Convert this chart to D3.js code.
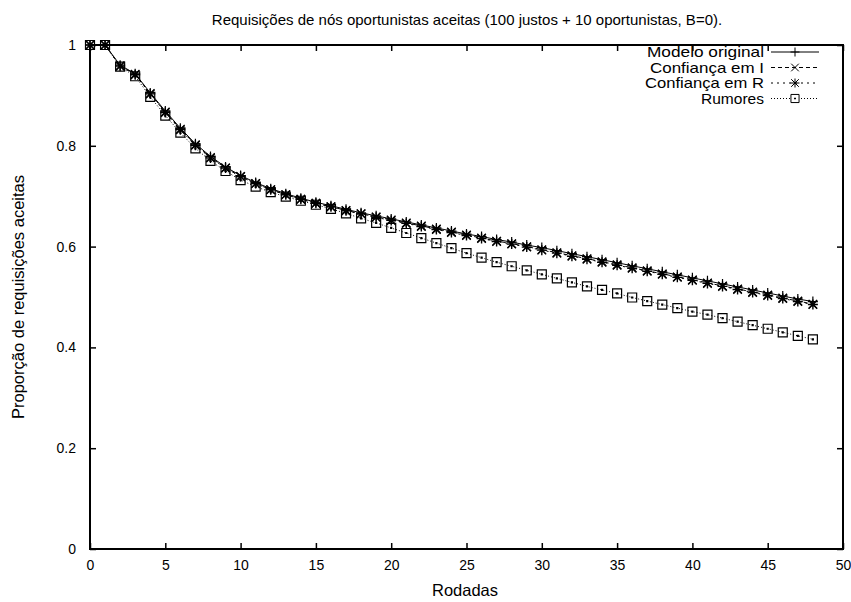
<!DOCTYPE html>
<html>
<head>
<meta charset="utf-8">
<script src="https://cdn.jsdelivr.net/npm/d3@7"></script>
<style>
  html, body { margin: 0; padding: 0; background: #fff; }
  text { font-family: "Liberation Sans", Arial, Helvetica, sans-serif; fill: #000; }
</style>
</head>
<body>
<svg id="chart" width="851" height="602"></svg>
<script>
// Rodadas 0..48
const rounds = d3.range(0, 49);

const modeloOriginal = [1,1,0.960,0.943,0.905,0.869,0.835,0.804,0.779,0.758,0.741,0.727,0.715,0.705,0.696,0.688,0.681,0.674,0.667,0.661,0.655,0.649,0.643,0.637,0.631,0.625,0.620,0.614,0.609,0.603,0.598,0.592,0.586,0.580,0.574,0.568,0.562,0.556,0.550,0.544,0.538,0.532,0.526,0.520,0.514,0.508,0.502,0.496,0.491];
const confiancaI = [1,1,0.959,0.942,0.904,0.867,0.833,0.802,0.777,0.756,0.739,0.725,0.713,0.703,0.694,0.686,0.679,0.672,0.665,0.659,0.653,0.647,0.641,0.635,0.629,0.623,0.617,0.611,0.606,0.600,0.594,0.588,0.582,0.576,0.570,0.564,0.558,0.552,0.546,0.540,0.534,0.528,0.522,0.516,0.510,0.504,0.498,0.492,0.486];
const confiancaR = [1,1,0.958,0.941,0.903,0.866,0.832,0.801,0.776,0.756,0.739,0.725,0.713,0.703,0.694,0.686,0.679,0.671,0.665,0.658,0.652,0.646,0.640,0.634,0.628,0.622,0.616,0.610,0.605,0.599,0.593,0.587,0.581,0.575,0.569,0.563,0.557,0.551,0.545,0.539,0.533,0.527,0.521,0.515,0.509,0.503,0.497,0.491,0.485];
const rumores = [1,1,0.957,0.938,0.897,0.860,0.826,0.795,0.770,0.750,0.732,0.719,0.708,0.699,0.691,0.683,0.675,0.666,0.656,0.647,0.637,0.627,0.617,0.607,0.597,0.587,0.578,0.569,0.561,0.553,0.545,0.537,0.529,0.521,0.514,0.507,0.499,0.492,0.485,0.478,0.471,0.465,0.458,0.451,0.444,0.437,0.430,0.423,0.416];

const xTicks = [0, 5, 10, 15, 20, 25, 30, 35, 40, 45, 50];
const yTicks = [0, 0.2, 0.4, 0.6, 0.8, 1];

const titleText = "Requisições de nós oportunistas aceitas (100 justos + 10 oportunistas, B=0).";
const xLabel = "Rodadas";
const yLabel = "Proporção de requisições aceitas";

const series = [
  { name: "Modelo original", values: modeloOriginal, dash: null, marker: "plus", textWidth: 117 },
  { name: "Confiança em I", values: confiancaI, dash: "4,3", marker: "cross", textWidth: 114 },
  { name: "Confiança em R", values: confiancaR, dash: "2,4", marker: "star", textWidth: 119 },
  { name: "Rumores", values: rumores, dash: "1,2", marker: "square", textWidth: 63 }
];

const svg = d3.select("#chart");
const margin = { left: 90, right: 8, top: 45, bottom: 53 };
const W = 851, H = 602;

const x = d3.scaleLinear().domain([0, 50]).range([margin.left, W - margin.right]);
const y = d3.scaleLinear().domain([0, 1]).range([H - margin.bottom, margin.top]);

const tickFs = 14, titleFs = 15, labelFs = 16.5, legendFs = 14.5;

// Marker shapes
function markerPath(type, s) {
  const p = d3.path();
  if (type === "plus" || type === "star") {
    p.moveTo(-s, 0); p.lineTo(s, 0);
    p.moveTo(0, -s); p.lineTo(0, s);
  }
  if (type === "cross" || type === "star") {
    const d = s * 0.85;
    p.moveTo(-d, -d); p.lineTo(d, d);
    p.moveTo(-d, d); p.lineTo(d, -d);
  }
  if (type === "square") {
    const h = s * 0.9;
    p.rect(-h, -h, 2 * h, 2 * h);
    p.rect(-0.5, -0.5, 1, 1);
  }
  return p.toString();
}

// Series lines and markers
const line = d3.line().x((d, i) => x(rounds[i])).y(d => y(d));
const plot = svg.append("g");
series.slice().reverse().forEach(s => {
  plot.append("path")
    .attr("d", line(s.values))
    .attr("fill", "none")
    .attr("stroke", "#000")
    .attr("stroke-width", 1)
    .attr("stroke-dasharray", s.dash);
  plot.selectAll(null).data(s.values).enter().append("path")
    .attr("transform", (d, i) => `translate(${x(rounds[i])},${y(d)})`)
    .attr("d", markerPath(s.marker, 5))
    .attr("fill", "none")
    .attr("stroke", "#000")
    .attr("stroke-width", s.marker === "star" ? 1.4 : 1.2);
});

// Axes with inward ticks, mirrored on the opposite sides
const tickLen = 6;
const axisBottom = d3.axisBottom(x).tickValues(xTicks).tickSize(-tickLen).tickPadding(tickLen + 5).tickFormat(d3.format("d"));
const axisTop = d3.axisTop(x).tickValues(xTicks).tickSize(-tickLen).tickFormat("");
const axisLeft = d3.axisLeft(y).tickValues(yTicks).tickSize(-tickLen).tickPadding(tickLen + 8).tickFormat(d => d === 0 || d === 1 ? d3.format("d")(d) : d3.format(".1f")(d));
const axisRight = d3.axisRight(y).tickValues(yTicks).tickSize(-tickLen).tickFormat("");

function styleAxis(g) {
  g.select(".domain").remove();
  g.selectAll(".tick line").attr("stroke", "#000").attr("stroke-width", 1.5);
  g.selectAll(".tick text").attr("font-size", tickFs).attr("font-family", "Liberation Sans, Arial, sans-serif").attr("fill", "#000");
}
svg.append("g").attr("transform", `translate(0,${y(0)})`).call(axisBottom).call(styleAxis);
svg.append("g").attr("transform", `translate(0,${y(1)})`).call(axisTop).call(styleAxis);
svg.append("g").attr("transform", `translate(${x(0)},0)`).call(axisLeft).call(styleAxis);
svg.append("g").attr("transform", `translate(${x(50)},0)`).call(axisRight).call(styleAxis);

// Frame
svg.append("rect")
  .attr("x", x(0)).attr("y", y(1))
  .attr("width", x(50) - x(0)).attr("height", y(0) - y(1))
  .attr("fill", "none").attr("stroke", "#000").attr("stroke-width", 2);

// Legend
const legend = svg.append("g");
const legTextX = 764, legLineX0 = 771, legLineX1 = 819, legY0 = 52, legDy = 15.5;
series.forEach((s, i) => {
  const yy = legY0 + i * legDy;
  legend.append("text")
    .attr("x", legTextX).attr("y", yy).attr("dy", "0.35em")
    .attr("text-anchor", "end").attr("font-size", legendFs)
    .attr("textLength", s.textWidth).attr("lengthAdjust", "spacingAndGlyphs")
    .text(s.name);
  legend.append("line")
    .attr("x1", legLineX0).attr("x2", legLineX1).attr("y1", yy).attr("y2", yy)
    .attr("stroke", "#000").attr("stroke-width", 1)
    .attr("stroke-dasharray", s.dash);
  legend.append("path")
    .attr("transform", `translate(${(legLineX0 + legLineX1) / 2},${yy})`)
    .attr("d", markerPath(s.marker, 4.5))
    .attr("fill", s.marker === "square" ? "#fff" : "none")
    .attr("stroke", "#000").attr("stroke-width", 1);
});

// Titles
svg.append("text")
  .attr("x", 467).attr("y", 20).attr("dy", "0.35em")
  .attr("text-anchor", "middle").attr("font-size", titleFs)
  .text(titleText);
svg.append("text")
  .attr("x", 465).attr("y", 590).attr("dy", "0.35em")
  .attr("text-anchor", "middle").attr("font-size", labelFs)
  .text(xLabel);
svg.append("text")
  .attr("transform", `translate(18,297) rotate(-90)`)
  .attr("dy", "0.35em")
  .attr("text-anchor", "middle").attr("font-size", labelFs)
  .text(yLabel);
</script>
</body>
</html>
